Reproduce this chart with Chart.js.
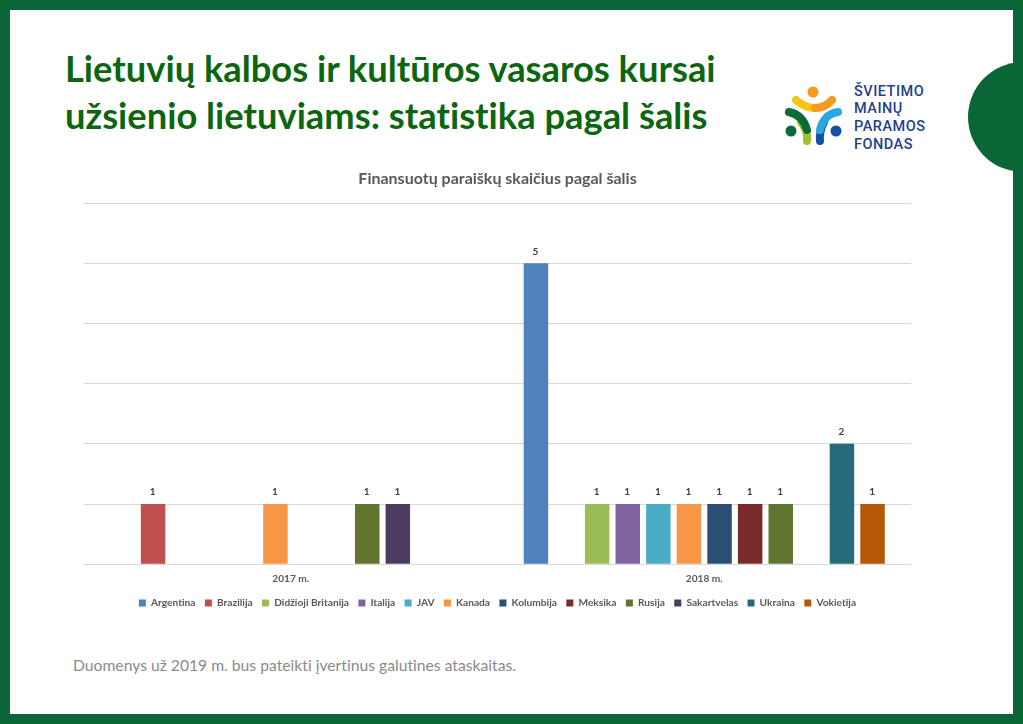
<!DOCTYPE html>
<html>
<head>
<meta charset="utf-8">
<script src="https://cdn.jsdelivr.net/npm/chart.js@4"></script>
<style>
html,body{margin:0;padding:0;background:#fff;}
#slide{position:relative;width:1023px;height:724px;overflow:hidden;background:#fff;font-family:Lato,sans-serif;font-variant-ligatures:none;}
#frame{position:absolute;left:0;top:0;width:1003px;height:704px;border:10px solid #0a6636;}
#bump{position:absolute;left:968px;top:62px;width:110px;height:110px;border-radius:50%;background:#0a6636;}
h1{position:absolute;left:65px;top:45px;margin:0;font-size:36.3px;line-height:47px;font-weight:700;color:#0b660f;white-space:nowrap;}
#logo{position:absolute;left:770px;top:70px;}
#box{position:absolute;left:84px;top:164px;width:827px;height:454px;}
#note{position:absolute;left:73px;top:655px;font-size:15.7px;line-height:20px;color:#8a8a8a;white-space:nowrap;}
</style>
</head>
<body>
<div id="slide">
  <div id="frame"></div>
  <div id="bump"></div>
  <h1>Lietuvių kalbos ir kultūros vasaros kursai<br>užsienio lietuviams: statistika pagal šalis</h1>
  <svg id="logo" width="170" height="90" viewBox="770 70 170 90" fill="none" stroke-linecap="round">
    <circle cx="813" cy="92" r="5.5" fill="#f39a1f"/>
    <path d="M796 100 Q805 108 815 108" stroke="#fbc415" stroke-width="8"/>
    <path d="M815 108 Q825 108 832 100" stroke="#f39a1f" stroke-width="8"/>
    <path d="M801 122 Q808 130 807 141" stroke="#9cc32c" stroke-width="8"/>
    <path d="M789 112 Q803 115 807 130" stroke="#0d6b3a" stroke-width="8"/>
    <path d="M824 122 Q819 132 820 141" stroke="#1450a3" stroke-width="8"/>
    <path d="M838 112 Q824 114 820 130" stroke="#29a7e1" stroke-width="8"/>
    <circle cx="791" cy="131" r="5.5" fill="#0d6b3a"/>
    <circle cx="836" cy="131" r="5.5" fill="#1450a3"/>
    <g fill="#1f3f8f" font-family="Roboto,sans-serif" font-size="14.5" font-weight="500" letter-spacing="0.5">
      <text x="854" y="96">ŠVIETIMO</text>
      <text x="854" y="113">MAINŲ</text>
      <text x="854" y="131">PARAMOS</text>
      <text x="854" y="149">FONDAS</text>
    </g>
  </svg>
  <div id="box"><canvas id="chart"></canvas></div>
  <div id="note">Duomenys už 2019 m. bus pateikti įvertinus galutines ataskaitas.</div>
</div>
<script>
const chartTitle = 'Finansuotų paraiškų skaičius pagal šalis';
const years = ['2017 m.', '2018 m.'];
const countries = ['Argentina', 'Brazilija', 'Didžioji Britanija', 'Italija', 'JAV', 'Kanada',
    'Kolumbija', 'Meksika', 'Rusija', 'Sakartvelas', 'Ukraina', 'Vokietija'];
const counts2017 = [null, 1, null, null, null, 1, null, null, 1, 1, null, null];
const counts2018 = [5, null, 1, 1, 1, 1, 1, 1, 1, null, 2, 1];
const colors = ['#4f81bd', '#c0504d', '#9bbb59', '#8064a2', '#4bacc6', '#f79646',
    '#2c4d75', '#772c2a', '#5f7530', '#4d3b62', '#276a7c', '#b65708'];

const textGrey = '#595959';

// value above each bar
const barLabels = {
    id: 'barLabels',
    afterDatasetsDraw(chart){
        let ctx = chart.ctx;
        ctx.save();
        ctx.font = 'bold 10px Lato';
        ctx.fillStyle = '#404040';
        ctx.textAlign = 'center';
        ctx.textBaseline = 'middle';
        chart.data.datasets.forEach((ds, i)=>{
            chart.getDatasetMeta(i).data.forEach((bar, j)=>{
                if(ds.data[j] != null){
                    ctx.fillText(ds.data[j], bar.x - 0.5, bar.y - 12);
                }
            });
        });
        ctx.restore();
    }
};

new Chart(document.getElementById('chart'), {
    type: 'bar',
    data: {
        labels: years,
        datasets: countries.map((name, i)=>({
            label: name,
            data: [counts2017[i], counts2018[i]],
            backgroundColor: colors[i],
            categoryPercentage: 0.888,
            barPercentage: 0.8
        }))
    },
    options: {
        responsive: true,
        maintainAspectRatio: false,
        animation: false,
        layout: {padding: 0},
        plugins: {
            title: {
                display: true,
                text: chartTitle,
                color: textGrey,
                font: {family: 'Lato', size: 16, weight: 'bold'},
                padding: {top: 5, bottom: 15}
            },
            legend: {
                position: 'bottom',
                labels: {
                    boxWidth: 7,
                    boxHeight: 7,
                    padding: 9.4,
                    color: textGrey,
                    font: {family: 'Lato', size: 10.2, weight: 'bold'}
                }
            },
            tooltip: {enabled: false}
        },
        scales: {
            x: {
                grid: {display: false},
                border: {color: '#d9d9d9'},
                afterFit(scale){ scale.height += 4; },
                ticks: {color: textGrey, font: {family: 'Lato', size: 10.2, weight: 'bold'}, padding: 0}
            },
            y: {
                min: 0,
                max: 6,
                afterFit(scale){ scale.width = 0; },
                ticks: {display: false, stepSize: 1},
                border: {display: false},
                grid: {color: '#d9d9d9', drawTicks: false}
            }
        }
    },
    plugins: [barLabels]
});
</script>
</body>
</html>
